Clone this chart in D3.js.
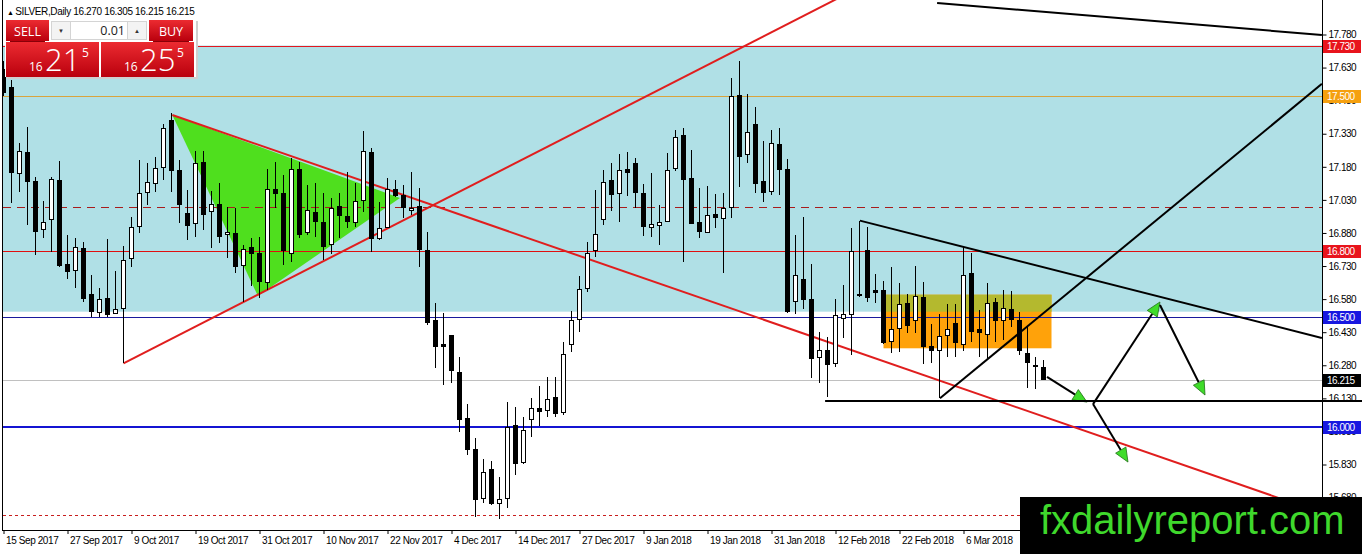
<!DOCTYPE html>
<html>
<head>
<meta charset="utf-8">
<script src="https://cdn.jsdelivr.net/npm/d3@7"></script>
<style>
  html, body { margin: 0; padding: 0; background: #fff; }
  svg { display: block; }
</style>
</head>
<body>
<div id="chart"></div>
<script>
// SILVER, Daily - bars from 15 Sep 2017, one label every 8 bars
const opens = [17.620,17.541,17.151,17.246,17.112,16.897,16.939,17.120,16.739,16.709,
  16.811,16.603,16.518,16.581,16.516,16.538,16.765,16.908,17.064,17.105,
  17.176,17.392,17.161,16.966,16.924,17.199,16.976,17.011,16.872,16.879,
  16.732,16.813,16.785,16.656,17.075,17.057,16.788,17.166,16.883,16.974,
  16.928,16.829,16.998,16.956,16.928,17.025,17.246,16.856,16.906,17.075,
  17.049,16.981,16.999,16.800,16.481,16.372,16.413,16.248,16.040,15.896,
  15.677,15.808,15.654,15.677,16.009,15.840,16.035,16.082,16.074,16.133,
  16.065,16.375,16.489,16.629,16.800,16.939,17.116,17.060,17.166,17.193,
  17.060,16.906,16.915,16.934,17.173,17.324,17.128,16.928,16.883,16.965,
  16.947,16.996,17.503,17.237,17.370,17.112,17.070,17.279,17.166,16.568,
  16.671,16.576,16.316,16.349,16.289,16.493,16.508,16.600,16.800,16.617,
  16.621,16.387,16.448,16.561,16.482,16.588,16.364,16.345,16.417,16.470,
  16.372,16.694,16.440,16.420,16.566,16.481,16.535,16.485,16.334,16.278,
  16.270];
const highs = [17.660,17.574,17.287,17.362,17.132,17.026,17.135,17.206,16.871,16.859,
  16.838,16.689,16.629,16.853,16.708,16.821,16.951,17.211,17.196,17.226,
  17.373,17.423,17.211,17.075,17.253,17.253,17.072,17.108,16.999,16.992,
  16.825,16.859,16.863,17.169,17.203,17.143,17.219,17.203,17.098,17.108,
  17.060,17.037,17.063,17.158,17.105,17.342,17.264,17.022,17.128,17.120,
  17.098,17.158,17.083,16.886,16.561,16.518,16.418,16.319,16.104,15.949,
  15.854,15.846,15.775,16.115,16.092,16.047,16.133,16.186,16.225,16.225,
  16.387,16.526,16.685,16.840,17.075,17.166,17.199,17.238,17.246,17.219,
  17.102,17.151,17.007,17.244,17.347,17.356,17.256,17.083,17.093,17.055,
  17.060,17.581,17.660,17.509,17.453,17.297,17.347,17.355,17.215,16.871,
  16.951,16.739,16.432,16.410,16.579,16.644,16.901,16.936,16.906,16.694,
  16.664,16.724,16.655,16.603,16.730,16.659,16.467,16.513,16.557,16.557,
  16.815,16.791,16.531,16.655,16.584,16.621,16.618,16.523,16.455,16.319,
  16.305];
const lows = [17.500,17.015,17.067,16.916,16.780,16.859,16.795,16.725,16.671,16.629,
  16.568,16.500,16.500,16.500,16.511,16.289,16.724,16.879,17.007,17.064,
  17.120,17.066,16.924,16.848,16.863,16.893,16.811,16.833,16.765,16.700,
  16.568,16.640,16.584,16.621,16.992,16.735,16.750,16.856,16.871,16.863,
  16.757,16.785,16.856,16.901,16.908,16.976,16.795,16.848,16.903,17.044,
  16.947,16.962,16.727,16.463,16.269,16.191,16.198,15.979,15.873,15.593,
  15.657,15.646,15.582,15.631,15.782,15.832,15.956,16.005,16.047,16.044,
  16.055,16.342,16.432,16.614,16.772,16.916,16.981,16.928,17.048,16.992,
  16.868,16.860,16.825,16.931,17.162,16.750,16.921,16.859,16.880,16.904,
  16.697,16.947,17.090,17.199,17.060,17.022,17.052,17.052,16.516,16.511,
  16.535,16.221,16.198,16.138,16.274,16.405,16.327,16.590,16.568,16.564,
  16.377,16.334,16.342,16.428,16.425,16.286,16.289,16.130,16.319,16.319,
  16.346,16.387,16.319,16.312,16.387,16.395,16.455,16.327,16.176,16.171,
  16.215];
const closes = [17.515,17.155,17.249,17.112,16.886,16.928,17.123,16.732,16.704,16.815,
  16.581,16.523,16.576,16.511,16.534,16.757,16.906,17.060,17.110,17.173,
  17.352,17.161,17.010,16.916,17.193,16.962,17.007,16.866,16.883,16.727,
  16.803,16.788,16.659,17.078,17.060,16.800,17.169,16.875,16.980,16.931,
  16.818,16.992,16.958,16.931,17.022,17.249,16.856,16.901,17.075,17.052,
  16.996,16.992,16.803,16.473,16.364,16.367,16.255,16.035,15.899,15.672,
  15.795,15.651,15.672,15.997,15.835,15.982,16.085,16.069,16.127,16.062,
  16.330,16.485,16.625,16.788,16.871,17.110,17.055,17.161,17.155,17.064,
  16.908,16.919,16.928,17.162,17.311,17.123,16.924,16.886,16.958,16.949,
  16.992,17.498,17.226,17.337,17.105,17.064,17.287,17.169,16.523,16.689,
  16.576,16.312,16.345,16.284,16.505,16.511,16.795,16.595,16.588,16.611,
  16.382,16.443,16.557,16.460,16.594,16.364,16.349,16.410,16.440,16.384,
  16.689,16.432,16.430,16.561,16.485,16.538,16.489,16.349,16.292,16.275,
  16.215];

const dateLabels = ['15 Sep 2017', '27 Sep 2017', '9 Oct 2017', '19 Oct 2017', '31 Oct 2017',
  '10 Nov 2017', '22 Nov 2017', '4 Dec 2017', '14 Dec 2017', '27 Dec 2017', '9 Jan 2018',
  '19 Jan 2018', '31 Jan 2018', '12 Feb 2018', '22 Feb 2018', '6 Mar 2018'];
const labelEvery = 8;
const priceTicks = [17.78, 17.63, 17.48, 17.33, 17.18, 17.03, 16.88, 16.73, 16.58,
  16.43, 16.28, 16.13, 15.98, 15.83, 15.68];

// drawn objects (bar index / price)
const levelPrices = [17.73, 17.50, 17.00, 16.80, 16.50, 16.215, 16.00, 15.60];
const blueZone = [17.73, 16.523];
const rangeBox = [110, 131, 16.60, 16.357];
const triangle = [[21.1, 17.415], [31.8, 16.594], [49.56, 17.039]];
const trendLines = [
  [15, 16.289, 103, 17.92],
  [21.1, 17.415, 158.3, 15.692],
  [116.7, 17.923, 164.8, 17.778],
  [107.05, 16.936, 164.8, 16.404],
  [117.06, 16.130, 164.8, 17.556]
];
const supportLine = [102.7, 16.12];
const arrows = [
  [130.44, 16.227, 135.44, 16.113],
  [136.19, 16.104, 144.56, 16.567],
  [144.56, 16.553, 150.19, 16.145],
  [136.19, 16.104, 140.56, 15.841]
];

const W = 1362, H = 554;
const plot = { left: 3, right: 1322, top: 0, bottom: 530 };
const FONT = "'Liberation Sans', Arial, sans-serif";

const x = d3.scaleLinear().domain([0, 130]).range([3.5, 1043.5]);
const y = d3.scaleLinear().domain([17.78, 15.83]).range([34.5, 464.5]);
const fmt = d3.format('.3f');
const snap = v => Math.round(v) + 0.5;

const svg = d3.select('#chart').append('svg')
  .attr('width', W)
  .attr('height', H)
  .style('font-family', FONT);

const defs = svg.append('defs');
defs.append('clipPath').attr('id', 'plotClip')
  .append('rect')
  .attr('x', plot.left).attr('y', plot.top)
  .attr('width', plot.right - plot.left).attr('height', plot.bottom - plot.top);

const grad = defs.append('linearGradient').attr('id', 'btnRed')
  .attr('x1', 0).attr('y1', 0).attr('x2', 0).attr('y2', 1);
grad.append('stop').attr('offset', '0%').attr('stop-color', '#ec2b31');
grad.append('stop').attr('offset', '100%').attr('stop-color', '#b9000d');

const g = svg.append('g').attr('clip-path', 'url(#plotClip)');

// background zone
g.append('rect')
  .attr('x', plot.left)
  .attr('y', y(blueZone[0]))
  .attr('width', plot.right - plot.left)
  .attr('height', y(blueZone[1]) - y(blueZone[0]))
  .attr('fill', '#b0e0e6');

// consolidation box: orange on white, olive where it overlaps the zone
g.append('rect')
  .attr('x', x(rangeBox[0]))
  .attr('y', y(rangeBox[2]))
  .attr('width', x(rangeBox[1]) - x(rangeBox[0]))
  .attr('height', y(rangeBox[3]) - y(rangeBox[2]))
  .attr('fill', '#ffa20a');
const oliveTop = Math.min(rangeBox[2], blueZone[0]);
const oliveBottom = Math.max(rangeBox[3], blueZone[1]);
g.append('rect')
  .attr('x', x(rangeBox[0]))
  .attr('y', y(oliveTop))
  .attr('width', x(rangeBox[1]) - x(rangeBox[0]))
  .attr('height', y(oliveBottom) - y(oliveTop))
  .attr('fill', '#b4b92e');

// green triangle
g.append('polygon')
  .attr('points', triangle.map(d => [x(d[0]), y(d[1])].join(',')).join(' '))
  .attr('fill', '#4fdf1e');

// horizontal levels
const levelStyle = [
  { stroke: '#e3161e', width: 1, tag: '#e8141c' },
  { stroke: '#d9a43e', width: 1, tag: '#f5a00f' },
  { stroke: '#a81c1c', width: 1, dash: '8,6' },
  { stroke: '#e01010', width: 1, tag: '#e8141c' },
  { stroke: '#1a1a9c', width: 1, tag: '#1717e0' },
  { stroke: '#c0c0c0', width: 1, tag: '#000000' },
  { stroke: '#1414d2', width: 2, tag: '#1717e0' },
  { stroke: '#c81e1e', width: 1, dash: '3,3' }
];
levelPrices.forEach((p, i) => {
  const s = levelStyle[i];
  const yy = s.width === 2 ? Math.round(y(p)) : snap(y(p));
  g.append('line')
    .attr('x1', plot.left).attr('x2', plot.right)
    .attr('y1', yy).attr('y2', yy)
    .attr('stroke', s.stroke)
    .attr('stroke-width', s.width)
    .attr('stroke-dasharray', s.dash || null);
});

// trend lines
const trendStyle = [
  { stroke: '#e01e1e', ray: true },
  { stroke: '#e01e1e', ray: true },
  { stroke: '#000' },
  { stroke: '#000' },
  { stroke: '#000' }
];
trendLines.forEach((t, i) => {
  const x1 = x(t[0]), y1 = y(t[1]);
  let x2 = x(t[2]), y2 = y(t[3]);
  if (trendStyle[i].ray) {
    const m = (y2 - y1) / (x2 - x1);
    x2 = plot.right;
    y2 = y1 + m * (x2 - x1);
  }
  g.append('line')
    .attr('x1', x1).attr('y1', y1)
    .attr('x2', x2).attr('y2', y2)
    .attr('stroke', trendStyle[i].stroke)
    .attr('stroke-width', 2);
});

// candles
const bars = opens.map((o, i) => ({ i, o, h: highs[i], l: lows[i], c: closes[i] }));
const cg = g.append('g').attr('shape-rendering', 'crispEdges');
cg.selectAll('.wick')
  .data(bars)
  .join('line')
  .attr('class', 'wick')
  .attr('x1', d => x(d.i)).attr('x2', d => x(d.i))
  .attr('y1', d => y(d.h)).attr('y2', d => y(d.l))
  .attr('stroke', '#000');
cg.selectAll('.body')
  .data(bars)
  .join('rect')
  .attr('class', 'body')
  .attr('x', d => x(d.i) - 2)
  .attr('width', 4)
  .attr('y', d => y(Math.max(d.o, d.c)))
  .attr('height', d => Math.max(0.5, Math.abs(y(d.o) - y(d.c))))
  .attr('fill', d => d.c < d.o ? '#000' : '#fff')
  .attr('stroke', '#000')
  .attr('stroke-width', 1);

// arrows
const ag = g.append('g');
arrows.forEach(a => {
  const x1 = x(a[0]), y1 = y(a[1]), x2 = x(a[2]), y2 = y(a[3]);
  const len = Math.hypot(x2 - x1, y2 - y1);
  const ux = (x2 - x1) / len, uy = (y2 - y1) / len;
  const bx = x2 - ux * 14, by = y2 - uy * 14;
  ag.append('line')
    .attr('x1', x1).attr('y1', y1).attr('x2', bx).attr('y2', by)
    .attr('stroke', '#000').attr('stroke-width', 2);
  ag.append('polygon')
    .attr('points', [[x2, y2], [bx - uy * 6, by + ux * 6], [bx + uy * 6, by - ux * 6]]
      .map(p => p.join(',')).join(' '))
    .attr('fill', '#3fdc2a')
    .attr('stroke', '#1f6f14')
    .attr('stroke-width', 0.8);
});

// frame
svg.append('line').attr('x1', 2.5).attr('x2', 2.5).attr('y1', 0).attr('y2', plot.bottom)
  .attr('stroke', '#000');
svg.append('line').attr('x1', plot.right + 0.5).attr('x2', plot.right + 0.5)
  .attr('y1', 0).attr('y2', plot.bottom + 1).attr('stroke', '#000');
svg.append('line').attr('x1', 2).attr('x2', plot.right + 1)
  .attr('y1', plot.bottom + 0.5).attr('y2', plot.bottom + 0.5).attr('stroke', '#000');

// price axis
const yAxis = d3.axisRight(y)
  .tickValues(priceTicks)
  .tickFormat(fmt)
  .tickSize(4)
  .tickPadding(2);
const ya = svg.append('g')
  .attr('transform', `translate(${plot.right + 0.5},0)`)
  .call(yAxis);
ya.select('.domain').remove();
ya.selectAll('text')
  .style('font-family', FONT)
  .style('font-size', '10px')
  .style('letter-spacing', '-0.5px')
  .attr('fill', '#000');

// time axis
const xAxis = d3.axisBottom(x)
  .tickValues(dateLabels.map((d, i) => i * labelEvery))
  .tickFormat((d, i) => dateLabels[i])
  .tickSize(4)
  .tickSizeOuter(0);
const xa = svg.append('g')
  .attr('transform', `translate(0,${plot.bottom})`)
  .call(xAxis);
xa.select('.domain').remove();
xa.selectAll('text')
  .attr('text-anchor', 'start')
  .attr('x', 2)
  .style('font-family', FONT)
  .style('font-size', '10px')
  .style('letter-spacing', '-0.4px')
  .attr('fill', '#000');

// price tags on the axis
levelPrices.forEach((p, i) => {
  const s = levelStyle[i];
  if (!s.tag) return;
  const yy = Math.round(y(p));
  svg.append('rect')
    .attr('x', plot.right + 1).attr('y', yy - 6)
    .attr('width', 38).attr('height', 13)
    .attr('fill', s.tag);
  svg.append('text')
    .attr('x', plot.right + 5).attr('y', yy + 4)
    .attr('fill', '#fff')
    .style('font-size', '10px')
    .style('letter-spacing', '-0.5px')
    .text(fmt(p));
});

// support line runs across the price scale
svg.append('line')
  .attr('x1', x(supportLine[0])).attr('x2', W)
  .attr('y1', Math.round(y(supportLine[1]))).attr('y2', Math.round(y(supportLine[1])))
  .attr('stroke', '#000').attr('stroke-width', 2);

// header
const head = svg.append('text').attr('x', 7).attr('y', 15)
  .style('font-size', '10px').style('letter-spacing', '-0.35px').attr('fill', '#000');
head.append('tspan').style('font-size', '7px').text('▲ ');
head.append('tspan').text('SILVER,Daily  16.270 16.305 16.215 16.215');

// one-click trading panel
const panel = svg.append('g');
panel.append('rect').attr('x', 7).attr('y', 21).attr('width', 191).attr('height', 58).attr('fill', '#cfcfcf');
panel.append('rect').attr('x', 5).attr('y', 19).attr('width', 191).attr('height', 58).attr('fill', '#fff');
const pf = "'Open Sans', 'Noto Sans', sans-serif";
[[6, 20, 43, 21, 'SELL'], [149, 20, 44, 21, 'BUY']].forEach(b => {
  panel.append('rect').attr('x', b[0]).attr('y', b[1]).attr('width', b[2]).attr('height', b[3])
    .attr('fill', 'url(#btnRed)');
  panel.append('line').attr('x1', b[0] + 4).attr('x2', b[0] + b[2] - 4)
    .attr('y1', 41.5).attr('y2', 41.5).attr('stroke', '#8a0008');
  panel.append('text').attr('x', b[0] + b[2] / 2).attr('y', 35.5)
    .attr('text-anchor', 'middle').attr('fill', '#fff')
    .style('font-family', pf).style('font-size', '12.5px').text(b[4]);
});
[[51, '▼'], [127, '▲']].forEach(s => {
  panel.append('rect').attr('x', s[0] + 0.5).attr('y', 21.5).attr('width', 19).attr('height', 18)
    .attr('fill', '#f3f3f3').attr('stroke', '#d4d4d4');
  panel.append('text').attr('x', s[0] + 10).attr('y', 33).attr('text-anchor', 'middle')
    .attr('fill', '#333').style('font-size', '6px').text(s[1]);
});
panel.append('rect').attr('x', 70.5).attr('y', 21.5).attr('width', 57).attr('height', 18)
  .attr('fill', '#fff').attr('stroke', '#d4d4d4');
panel.append('text').attr('x', 125).attr('y', 35).attr('text-anchor', 'end')
  .attr('fill', '#222').style('font-family', pf).style('font-size', '12.5px').text('0.01');
[[6, '16', '21', '5'], [101, '16', '25', '5']].forEach(q => {
  const bx = q[0];
  panel.append('rect').attr('x', bx).attr('y', 42).attr('width', 93).attr('height', 35)
    .attr('fill', 'url(#btnRed)');
  panel.append('text').attr('x', bx + 23).attr('y', 71).attr('fill', '#fff')
    .style('font-family', pf).style('font-size', '12px').text(q[1]);
  panel.append('text').attr('x', bx + 39).attr('y', 71).attr('fill', '#fff')
    .style('font-family', pf).style('font-size', '31px').style('font-weight', 300).text(q[2]);
  panel.append('text').attr('x', bx + 76).attr('y', 57).attr('fill', '#fff')
    .style('font-family', pf).style('font-size', '12px').text(q[3]);
});

// watermark
svg.append('rect').attr('x', 1020).attr('y', 497).attr('width', W - 1020).attr('height', H - 497)
  .attr('fill', '#000');
svg.append('text').attr('x', 1040).attr('y', 534)
  .attr('fill', '#3fd82c')
  .style('font-size', '40px')
  .text('fxdailyreport.com');
</script>
</body>
</html>
